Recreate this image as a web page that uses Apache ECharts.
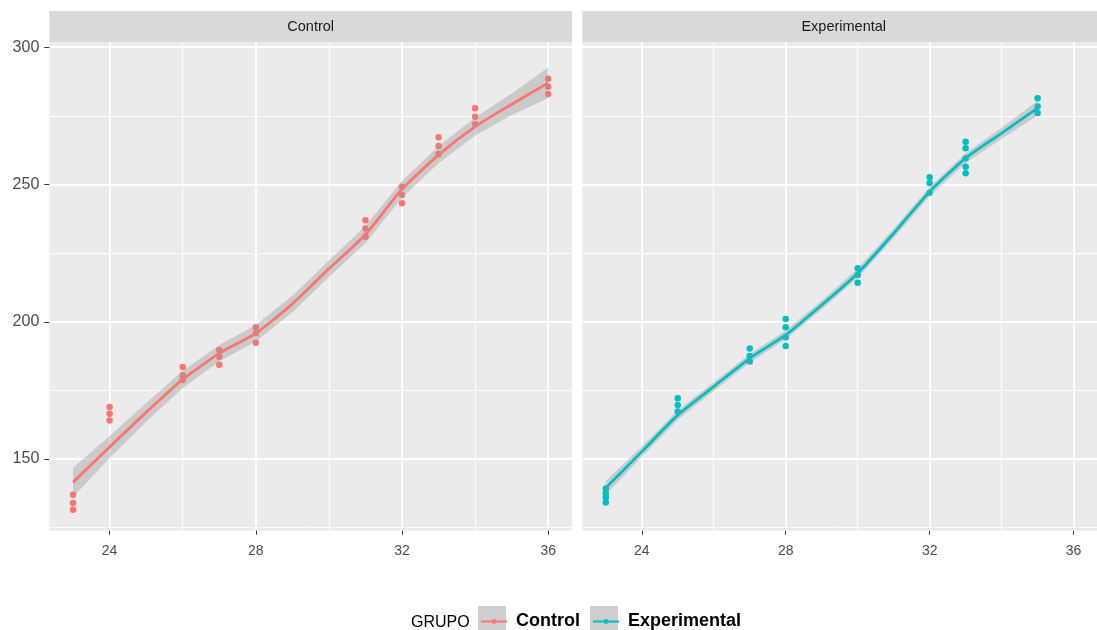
<!DOCTYPE html>
<html>
<head>
<meta charset="utf-8">
<script src="https://cdn.jsdelivr.net/npm/echarts@6/dist/echarts.min.js"></script>
<style>
html,body{margin:0;padding:0;background:#fff;}
#chart{width:1097px;height:630px;}
</style>
</head>
<body>
<div id="chart"></div>
<script>
// ---------- data ----------
const panels = ['Control', 'Experimental'];
const colors = ['#F8766D', '#00BFC4'];

const xTicks = [24, 28, 32, 36];
const xMinor = [26, 30, 34];
const yTicks = [150, 200, 250, 300];
const yMinor = [125, 175, 225, 275];

// observed points
const ctrlX = [23,23,23, 24,24,24, 26,26,26, 27,27,27, 28,28,28, 31,31,31, 32,32,32, 33,33,33, 34,34,34, 36,36,36];
const ctrlY = [137,134,131.5, 169,166.5,164, 183.5,180.5,178.8, 189.7,187.3,184.3, 198,195.8,192.4, 237,234,231, 249.2,246.2,243.2, 267.2,264,261.1, 277.8,274.7,271.9, 288.5,285.6,283];

const expX = [23,23,23,23, 25,25,25, 27,27,27, 28,28,28,28, 30,30,30, 32,32,32, 33,33,33,33,33, 35,35,35];
const expY = [139.3,137.5,136.1,134.2, 172.1,169.7,167.3, 190.3,187.5,185.5, 201,198,194.4,191.2, 219.5,217,214.2, 252.6,250.5,247, 265.6,263.2,259.6,256.5,254.1, 281.4,278.4,276];

// smoothed fit and ribbon half-width
const ctrlFitX = [23,24,25,26,27,28,29,30,31,32,33,34,35,36];
const ctrlFit  = [141.5,154.4,167,179,188.5,195.8,206.5,219.3,231.8,248.3,260.8,271.1,279.2,287];
const ctrlHalf = [5.3,4,3.4,3.1,3,3,3,3,3.1,3.1,3.1,3.3,3.9,5.6];

const expFitX = [23,24,25,26,27,28,29,30,31,32,33,34,35];
const expFit  = [139.5,152.7,166,176.4,186.7,195.2,206.1,217.7,232.2,247.4,259.6,268.7,277.8];
const expHalf = [2.5,1.9,1.7,1.6,1.6,1.6,1.6,1.7,1.7,1.7,1.8,2,2.7];

// ---------- layout ----------
const X_MIN = 22.35, X_MAX = 36.65;
const Y_MIN = 123.9, Y_MAX = 301.9;
const PANEL_TOP = 42, PANEL_H = 488.7, PANEL_W = 522.7;
const PANEL_LEFT = [49.3, 582.4];
const RIBBON = 'rgba(153,153,153,0.4)';
const FONT = '"Liberation Sans", Arial, sans-serif';

const chart = echarts.init(document.getElementById('chart'), null, {renderer: 'canvas'});

const grids = PANEL_LEFT.map(l => ({
  left: l, top: PANEL_TOP, width: PANEL_W, height: PANEL_H,
  show: true, backgroundColor: '#EBEBEB', borderWidth: 0, containLabel: false
}));

const xAxes = [], yAxes = [];
[0, 1].forEach(g => {
  xAxes.push({
    type: 'value', gridIndex: g, min: X_MIN, max: X_MAX,
    axisLine: {show: false},
    axisTick: {show: true, length: 4, customValues: xTicks, lineStyle: {color: '#333333', width: 1}},
    axisLabel: {show: true, customValues: xTicks, margin: 13, fontSize: 14, color: '#4D4D4D', fontFamily: FONT},
    splitLine: {show: true, lineStyle: {color: '#FFFFFF', width: 1.8}}
  });
  yAxes.push({
    type: 'value', gridIndex: g, min: Y_MIN, max: Y_MAX,
    axisLine: {show: false},
    axisTick: {show: g === 0, length: 5, customValues: yTicks, lineStyle: {color: '#333333', width: 1}},
    axisLabel: {show: g === 0, customValues: yTicks, margin: 10, fontSize: 16, color: '#4D4D4D', fontFamily: FONT},
    splitLine: {show: true, lineStyle: {color: '#FFFFFF', width: 1.8}}
  });
});
// minor grid axes
[0, 1].forEach(g => {
  xAxes.push({
    type: 'value', gridIndex: g, min: X_MIN, max: X_MAX,
    axisLine: {show: false}, axisLabel: {show: false},
    axisTick: {show: false, customValues: xMinor},
    splitLine: {show: true, lineStyle: {color: '#FFFFFF', width: 0.9}}
  });
  yAxes.push({
    type: 'value', gridIndex: g, min: Y_MIN, max: Y_MAX,
    axisLine: {show: false}, axisLabel: {show: false},
    axisTick: {show: false, customValues: yMinor},
    splitLine: {show: true, lineStyle: {color: '#FFFFFF', width: 0.9}}
  });
});

function zip(a, b) { return a.map((v, i) => [v, b[i]]); }

const groups = [
  {name: 'Control', px: ctrlX, py: ctrlY, fx: ctrlFitX, fy: ctrlFit, hw: ctrlHalf},
  {name: 'Experimental', px: expX, py: expY, fx: expFitX, fy: expFit, hw: expHalf}
];

const series = [];
groups.forEach((gr, g) => {
  const col = colors[g];
  series.push({
    type: 'scatter', name: gr.name + ' pts', xAxisIndex: g, yAxisIndex: g,
    data: zip(gr.px, gr.py), symbol: 'circle', symbolSize: 6.5,
    itemStyle: {color: col, opacity: 1}, z: 2, silent: true
  });
  const ribbonData = gr.fx.map((x, i) => [x, gr.fy[i] - gr.hw[i], gr.fy[i] + gr.hw[i]]);
  series.push({
    type: 'custom', name: gr.name + ' band', xAxisIndex: g, yAxisIndex: g,
    data: ribbonData, encode: {x: 0, y: [1, 2]}, clip: true, z: 3, silent: true,
    renderItem: function (params, api) {
      if (params.dataIndex !== 0) return null;
      const upper = ribbonData.map(d => api.coord([d[0], d[2]]));
      const lower = ribbonData.slice().reverse().map(d => api.coord([d[0], d[1]]));
      return {
        type: 'polygon',
        shape: {points: upper.concat(lower)},
        style: {fill: RIBBON, stroke: null}
      };
    }
  });
  series.push({
    type: 'line', name: gr.name, xAxisIndex: g, yAxisIndex: g,
    data: zip(gr.fx, gr.fy), symbol: 'circle', symbolSize: 4, showSymbol: false,
    smooth: 0.2,
    lineStyle: {color: col, width: 2.8}, itemStyle: {color: col},
    z: 4, silent: true
  });
});

const gfx = [];
panels.forEach((p, g) => {
  gfx.push({
    type: 'rect', left: PANEL_LEFT[g], top: 11,
    shape: {x: 0, y: 0, width: PANEL_W, height: 31},
    style: {fill: '#D9D9D9'}, silent: true
  });
  gfx.push({
    type: 'text', x: PANEL_LEFT[g] + PANEL_W / 2, y: 27,
    style: {text: p, fill: '#1A1A1A', font: '14.5px ' + FONT,
            textAlign: 'center', textVerticalAlign: 'middle'}, silent: true
  });
});
// legend title and key backgrounds
gfx.push({
  type: 'text', x: 411, y: 623,
  style: {text: 'GRUPO', fill: '#000000', font: '16px ' + FONT,
          textAlign: 'left', textVerticalAlign: 'middle'}, silent: true
});
[478, 590].forEach(x => gfx.push({
  type: 'rect', left: x, top: 606, shape: {x: 0, y: 0, width: 28, height: 28},
  style: {fill: '#CECECE'}, silent: true, z: 0
}));

const legendBase = {
  orient: 'horizontal', top: 612.5, padding: 0,
  itemWidth: 26, itemHeight: 6, itemGap: 0,
  textStyle: {fontSize: 18, fontWeight: 'bold', color: '#000000',
              fontFamily: FONT, padding: [0, 0, 0, 4]},
  selectedMode: false
};

chart.setOption({
  animation: false,
  backgroundColor: '#FFFFFF',
  grid: grids,
  xAxis: xAxes,
  yAxis: yAxes,
  series: series,
  graphic: {elements: gfx},
  legend: [
    Object.assign({}, legendBase, {left: 480, data: ['Control']}),
    Object.assign({}, legendBase, {left: 592, data: ['Experimental']})
  ]
});
</script>
</body>
</html>
